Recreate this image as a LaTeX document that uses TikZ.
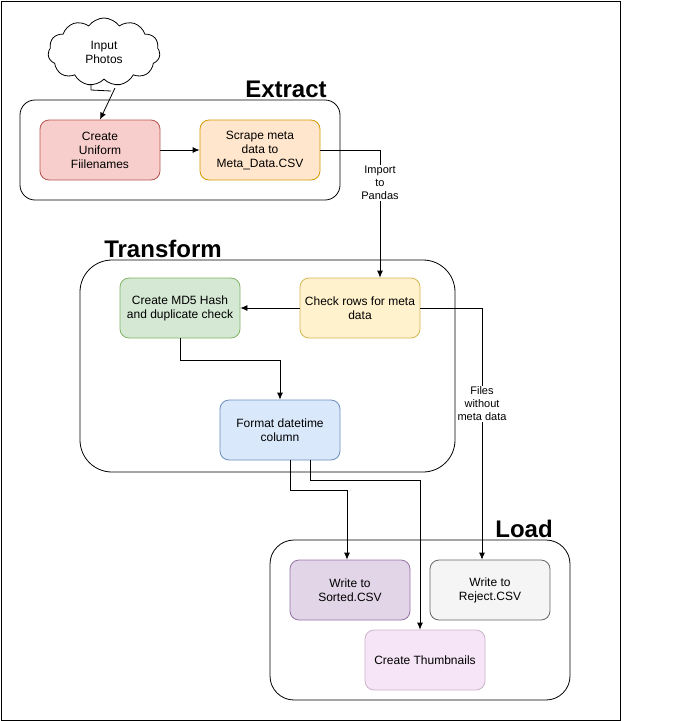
\documentclass[tikz,border=0pt]{standalone}
\usepackage{fontspec}
\setmainfont{Liberation Sans}
\usepackage{xcolor}
\usepackage{tikz}
\usetikzlibrary{arrows.meta, positioning, shapes.symbols}
\definecolor{redfill}{HTML}{F8CECC}\definecolor{reddraw}{HTML}{B85450}
\definecolor{orgfill}{HTML}{FFE6CC}\definecolor{orgdraw}{HTML}{D79B00}
\definecolor{ylwfill}{HTML}{FFF2CC}\definecolor{ylwdraw}{HTML}{D6B656}
\definecolor{grnfill}{HTML}{D5E8D4}\definecolor{grndraw}{HTML}{82B366}
\definecolor{blufill}{HTML}{DAE8FC}\definecolor{bludraw}{HTML}{6C8EBF}
\definecolor{prpfill}{HTML}{E1D5E7}\definecolor{prpdraw}{HTML}{9673A6}
\definecolor{gryfill}{HTML}{F5F5F5}\definecolor{grydraw}{HTML}{666666}
\definecolor{pnkfill}{HTML}{F6E5F6}\definecolor{pnkdraw}{HTML}{CDB3CC}

\begin{document}
\begin{tikzpicture}[x=1pt, y=-1pt, line width=0.8pt,
  box/.style={draw, rounded corners=9pt, minimum width=120pt, minimum height=60pt,
    align=center, font=\fontsize{12}{14}\selectfont},
  cont/.style={draw, line width=0.8pt},
  ttl/.style={font=\fontsize{24}{28}\selectfont\bfseries},
  lbl/.style={fill=white, align=center, inner sep=1pt, font=\fontsize{11}{13}\selectfont}]
\useasboundingbox (0,0) rectangle (681,721);
\draw[line width=1pt] (1,1) rectangle (620,720);
\draw[cont, rounded corners=15pt] (20,100) rectangle (340,200);
\draw[cont, rounded corners=32pt] (80,260) rectangle (455,472);
\draw[cont, rounded corners=24pt] (270,540) rectangle (570,700);
\node[ttl] (extract) at (286,89) {Extract};
\node[ttl] (transform) at (163,249) {Transform};
\node[ttl] (load) at (524,529) {Load};
\node[cloud, draw, cloud puffs=11, cloud puff arc=110, aspect=1.7, minimum width=112pt,
  minimum height=68pt, align=center, font=\fontsize{12}{14}\selectfont] (input) at (104,52) {Input\\Photos};
\draw (91,84) -- (91,90) -- (111,91);
\coordinate (tail) at (115,88);
\node[box, fill=redfill, draw=reddraw] (create) at (100,150) {Create\\Uniform\\Fiilenames};
\node[box, fill=orgfill, draw=orgdraw] (scrape) at (260,150) {Scrape meta\\data to\\Meta\_Data.CSV};
\node[box, fill=ylwfill, draw=ylwdraw] (check) at (360,308) {Check rows for meta\\data};
\node[box, fill=grnfill, draw=grndraw] (md5) at (180,308) {Create MD5 Hash\\and duplicate check};
\node[box, fill=blufill, draw=bludraw] (format) at (280,430) {Format datetime\\column};
\node[box, fill=prpfill, draw=prpdraw] (sorted) at (350,590) {Write to\\Sorted.CSV};
\node[box, fill=gryfill, draw=grydraw] (reject) at (490,590) {Write to\\Reject.CSV};
\node[box, fill=pnkfill, draw=pnkdraw] (thumbs) at (425,660) {Create Thumbnails};
\draw[-{Latex[length=7pt,width=6pt]}] (tail) -- (create.north);
\draw[-{Latex[length=7pt,width=6pt]}] (create) -- (scrape);
\draw[-{Latex[length=7pt,width=6pt]}] (scrape.east) -| node[lbl, pos=0.63] {Import\\to\\Pandas} ([xshift=20pt]check.north);
\draw[-{Latex[length=7pt,width=6pt]}] (check) -- (md5);
\draw[-{Latex[length=7pt,width=6pt]}] (md5.south) -- ++(0,22) -| (format.north);
\draw[-{Latex[length=7pt,width=6pt]}] (check.east) -| node[lbl, pos=0.69] {Files\\without\\meta data} ([xshift=-8pt]reject.north);
\draw[-{Latex[length=7pt,width=6pt]}] ([xshift=10pt]format.south) -- ++(0,30) -| ([xshift=-3pt]sorted.north);
\draw[-{Latex[length=7pt,width=6pt]}] ([xshift=30pt]format.south) -- ++(0,20) -| ([xshift=-5pt]thumbs.north);
\end{tikzpicture}
\end{document}
